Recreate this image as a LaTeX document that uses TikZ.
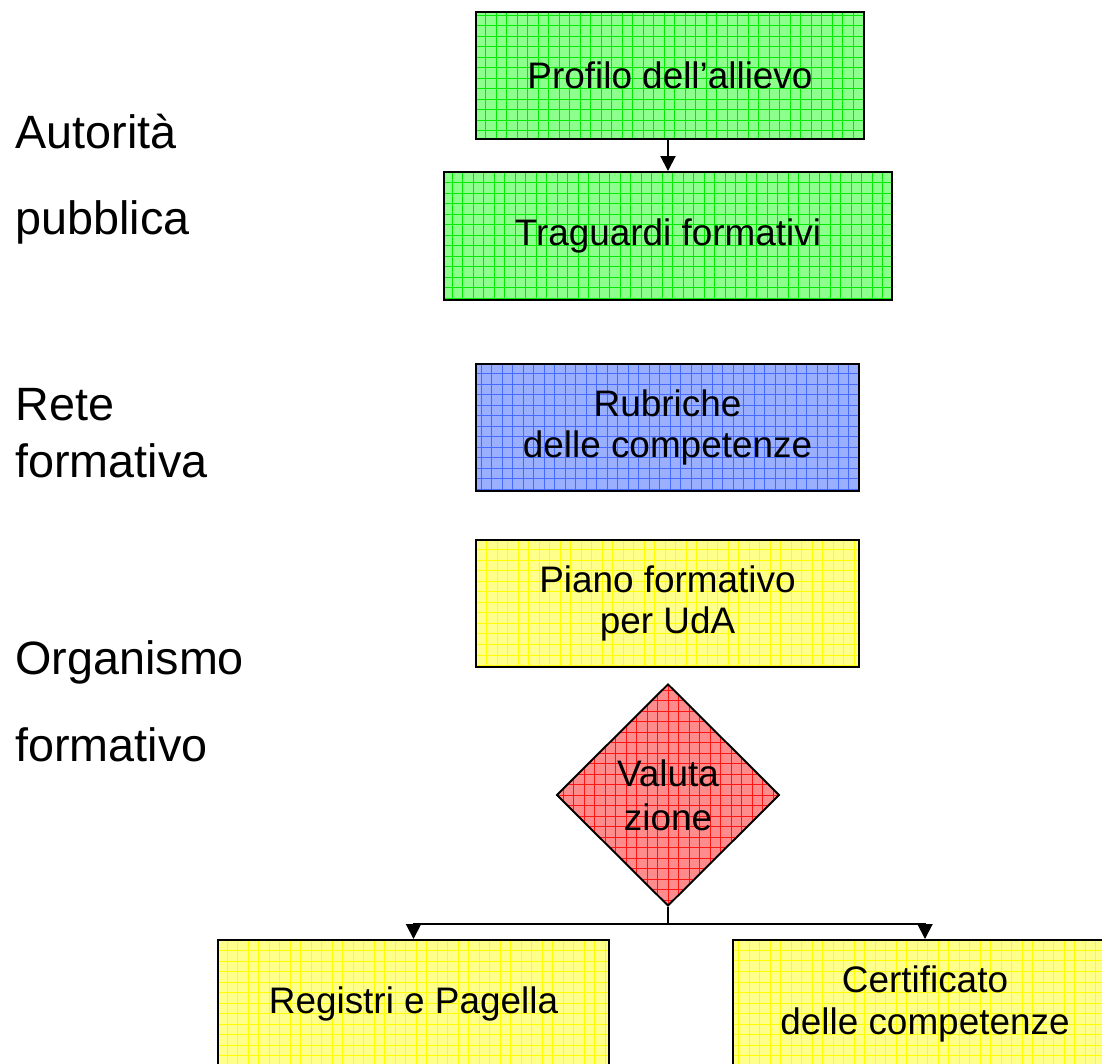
\documentclass[tikz,border=0pt]{standalone}
\usepackage{fontspec}
\setmainfont{Liberation Sans}
\usetikzlibrary{shapes.geometric,arrows.meta}
\definecolor{verde}{RGB}{0,235,0}
\definecolor{verdechiaro}{RGB}{140,255,140}
\definecolor{blu}{RGB}{70,105,255}
\definecolor{bluchiaro}{RGB}{155,175,255}
\definecolor{giallo}{RGB}{255,255,0}
\definecolor{giallochiaro}{RGB}{255,255,140}
\definecolor{rosso}{RGB}{255,20,20}
\definecolor{rossochiaro}{RGB}{255,140,140}
\begin{document}
\begin{tikzpicture}[
	casella/.style={draw=black,line width=1.1pt,inner sep=0pt,align=center,font=\fontsize{21}{23.2}\selectfont},
	griglia/.style 2 args={fill=#2,path picture={\draw[#1,line width=0.4pt] (path picture bounding box.south west) grid[step=0.21] (path picture bounding box.north east);}},
	freccia/.style={line width=1.1pt,-{Triangle[width=0.3cm,length=0.3cm]}},
	etichetta/.style={anchor=base west,inner sep=0pt,font=\fontsize{26.6}{30}\selectfont}]%Schema
	\useasboundingbox (0,0) rectangle (22.04,21.28);
	\clip (0,0) rectangle (22.04,21.28);
	\node[casella,griglia={verde}{verdechiaro},minimum width=7.76cm,minimum height=2.54cm] (prof) at (13.40,19.77) {Profilo dell’allievo};
	\node[casella,griglia={verde}{verdechiaro},minimum width=8.96cm,minimum height=2.56cm] (trag) at (13.36,16.56) {Traguardi formativi};
	\node[casella,griglia={blu}{bluchiaro},minimum width=7.66cm,minimum height=2.54cm] (rub) at (13.35,12.73) {Rubriche\\[0.5pt]delle competenze};
	\node[casella,griglia={giallo}{giallochiaro},minimum width=7.66cm,minimum height=2.54cm] (piano) at (13.35,9.21) {Piano formativo\\[0.5pt]per UdA};
	\node[casella,griglia={rosso}{rossochiaro},diamond,aspect=1,minimum width=4.46cm,minimum height=4.44cm] (val) at (13.36,5.38) {Valuta\\[2pt]zione};
	\node[casella,griglia={giallo}{giallochiaro},minimum width=7.82cm,minimum height=2.56cm] (reg) at (8.27,1.20) {Registri e Pagella};
	\node[casella,griglia={giallo}{giallochiaro},minimum width=7.68cm,minimum height=2.56cm] (cert) at (18.50,1.20) {Certificato\\[0.5pt]delle competenze};
	\draw[freccia] (prof.south -| trag.north) -- (trag.north);
	\draw[line width=1.1pt] (val.south) -- ++(0,-0.34) coordinate (split);
	\draw[freccia] (split) -| (reg.north);
	\draw[freccia] (split) -| (cert.north);
	\foreach \y/\t/\n in {18.30/Autorità/aut,16.58/pubblica/pub,12.86/Rete/ret,11.72/formativa/form,7.78/Organismo/org,6.04/formativo/fmv}
	\node[etichetta] (\n) at (0.30,\y) {\t};
\end{tikzpicture}
\end{document}
